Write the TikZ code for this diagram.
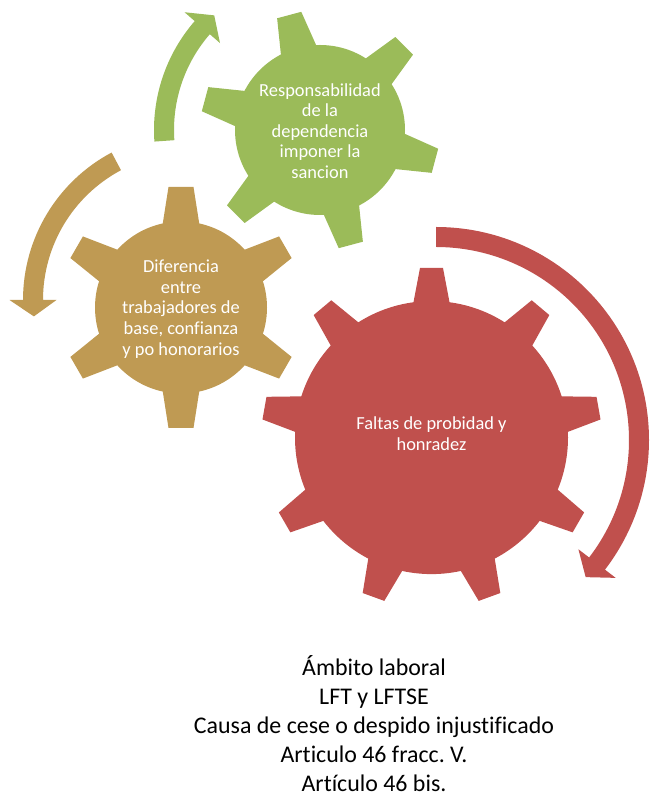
\documentclass[tikz,border=0pt]{standalone}
\usepackage{fontspec}
\setmainfont{Carlito}[Ligatures=NoCommon]
\usetikzlibrary{calc}
\definecolor{gearGreen}{HTML}{9BBB59}
\definecolor{gearTan}{HTML}{BF9A53}
\definecolor{gearRed}{HTML}{C0504D}
\frenchspacing

% gear: centre, body radius, tip radius, root half width, tip half width, tooth angles, colour
\newcommand{\drawgear}[7]{%
  \fill[#7] (#1) circle[radius=#2];
  \foreach \a in {#6}
    \fill[#7, shift={(#1)}, rotate=\a] (#2-10,-#4) -- (#3,-#5) -- (#3,#5) -- (#2-10,#4) -- cycle;
}
% curved arrow round a gear: centre, mid radius, tail angle, head angle, tip angle, colour
\newcommand{\cyclearrow}[6]{%
  \fill[#6] ($(#1)+({#3}:{#2+10})$) arc[start angle=#3, end angle=#4, radius=#2+10]
    -- ($(#1)+({#4}:{#2+23.5})$) -- ($(#1)+({#5}:{#2})$) -- ($(#1)+({#4}:{#2-23.5})$)
    -- ($(#1)+({#4}:{#2-10})$) arc[start angle=#4, end angle=#3, radius=#2-10] -- cycle;
}

\begin{document}
\begin{tikzpicture}[x=1pt, y=1pt,
    geartext/.style={text=white, align=center, inner sep=0pt,
      font=\fontsize{18.4}{20.6}\selectfont},
    caption/.style={text=black, inner sep=0pt, anchor=base,
      font=\fontsize{23.9}{29}\selectfont}]
  \useasboundingbox (0,0) rectangle (651,798);

  % gear centres and arrow centres
  \coordinate (gG) at (320,668);
  \coordinate (gT) at (181,490.5);
  \coordinate (gR) at (431.5,360.4);
  \coordinate (aT) at (190,498);
  \coordinate (aR) at (436,358);

  % arrows
  \cyclearrow{gG}{156}{184}{139}{132.7}{gearGreen}
  \cyclearrow{aT}{157}{118}{180}{186}{gearTan}
  \cyclearrow{aR}{203}{90}{-37.5}{-42.5}{gearRed}

  % gears
  \drawgear{gG}{85}{119}{19.5}{12.5}{45,105,...,345}{gearGreen}
  \drawgear{gT}{86}{120.5}{19.5}{12.5}{30,90,...,330}{gearTan}
  \drawgear{gR}{136.5}{169.6}{19.7}{11.5}{10,50,...,330}{gearRed}

  \node[geartext] (resp) at (320,667)
    {Responsabilidad\\de la\\dependencia\\imponer la\\sancion};
  \node[geartext] (dif) at (181,489)
    {Diferencia\\entre\\trabajadores de\\base, confianza\\y po honorarios};
  \node[geartext, font=\fontsize{18.4}{21}\selectfont] (faltas) at (431.5,364)
    {Faltas de probidad y\\honradez};

  % legend under the gears
  \foreach \ln [count=\i] in {Ámbito laboral, LFT y LFTSE,
      Causa de cese o despido injustificado, Articulo 46 fracc. V.,
      Artículo 46 bis.}
    \node[caption] (cap\i) at (374,{122-(\i-1)*29}) {\ln};
\end{tikzpicture}
\end{document}
